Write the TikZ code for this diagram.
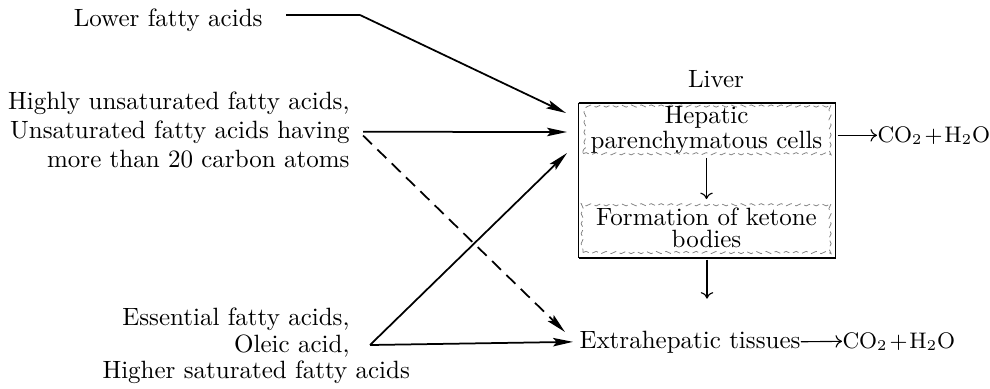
\documentclass[tikz,border=0pt]{standalone}
\usetikzlibrary{arrows.meta,decorations.pathmorphing}
\newcommand{\cotwo}{{\fontsize{9}{10}\selectfont CO$_2\mkern1.5mu{+}\mkern1.5mu$H$_2$O}}
\begin{document}
\begin{tikzpicture}[x=0.4pt,y=-0.4pt,
  lbl/.style={inner sep=0pt, font=\normalsize},
  mainarrow/.style={line width=0.7pt, -{Stealth[length=8pt,width=3.4pt,inset=1.5pt]}},
  thinarrow/.style={line width=0.45pt, -{To[length=2.6pt,width=5pt]}},
  cellbox/.style={inner sep=0pt, minimum width=98.8pt, align=center,
    font=\fontsize{10}{8.8}\selectfont,
    draw=black!50, line width=0.3pt, dash pattern=on 2.5pt off 1.5pt,
    decorate, decoration={snake, segment length=4pt, amplitude=0.45pt}},
]
\useasboundingbox (0,0) rectangle (990,388);

% left labels
\node[lbl, anchor=base east] (lower) at (263,26) {Lower fatty acids};
\node[lbl, anchor=base east] (us1) at (350,109) {Highly unsaturated fatty acids,};
\node[lbl, anchor=base east] (us2) at (350,138) {Unsaturated fatty acids having};
\node[lbl, anchor=base east] (us3) at (350,167) {more than 20 carbon atoms};
\node[lbl, anchor=base east] (es1) at (350,325) {Essential fatty acids,};
\node[lbl, anchor=base east] (es2) at (350,352) {Oleic acid,};
\node[lbl, anchor=base west] (es3) at (102,378) {Higher saturated fatty acids};

% liver box
\node[lbl, anchor=base] (liverlbl) at (716,87) {Liver};
\node[inner sep=0pt, minimum width=102.4pt, minimum height=61.6pt] (liver) at (707,180) {};
\draw[line width=0.8pt] (liver.north west) -- (liver.north east);
\draw[line width=0.8pt] (liver.south west) -- (liver.south east);
\draw[line width=0.45pt] (liver.north west) -- (liver.south west);
\draw[line width=0.45pt] (liver.north east) -- (liver.south east);
\node[cellbox, minimum height=19pt] (hep) at (706.5,130) {Hepatic\\parenchymatous cells};
\node[cellbox, minimum height=20pt] (keto) at (706.5,227.5) {Formation of ketone\\bodies};
\draw[thinarrow, shorten <=1.5pt, shorten >=1.2pt] (hep.south) -- (keto.north);

% right labels
\node[lbl, anchor=base west] (co2a) at (877,142) {\cotwo};
\node[lbl, anchor=base west] (extra) at (579,348) {Extrahepatic tissues};
\node[lbl, anchor=base west] (co2b) at (842,348) {\cotwo};

\draw[thinarrow, shorten <=0.8pt] (liver.east |- co2a.west) -- (co2a.west);
\draw[thinarrow] (extra.east) -- (co2b.west);
\draw[thinarrow, shorten <=0.8pt, shorten >=12.6pt] (liver.south) -- (liver.south |- extra.north);

% free ends
\coordinate (l0) at (286,15);
\coordinate (l1) at (360,15);
\coordinate (t1) at (566,113);
\coordinate (t2) at (567,132);
\coordinate (t3) at (567,153);
\coordinate (t4) at (565,332);
\coordinate (v) at (370,345);

\draw[line width=0.7pt] (l0) -- (l1);
\draw[mainarrow] (l1) -- (t1);
\draw[mainarrow] ([xshift=5.2pt]us2.east) -- (t2);
\draw[mainarrow, dash pattern=on 5pt off 3pt] ([xshift=5.2pt,yshift=-1.5pt]us2.east) -- (t4);
\draw[mainarrow] (v) -- (t3);
\draw[mainarrow, shorten >=2.4pt] (v) -- (extra.west);
\end{tikzpicture}
\end{document}
